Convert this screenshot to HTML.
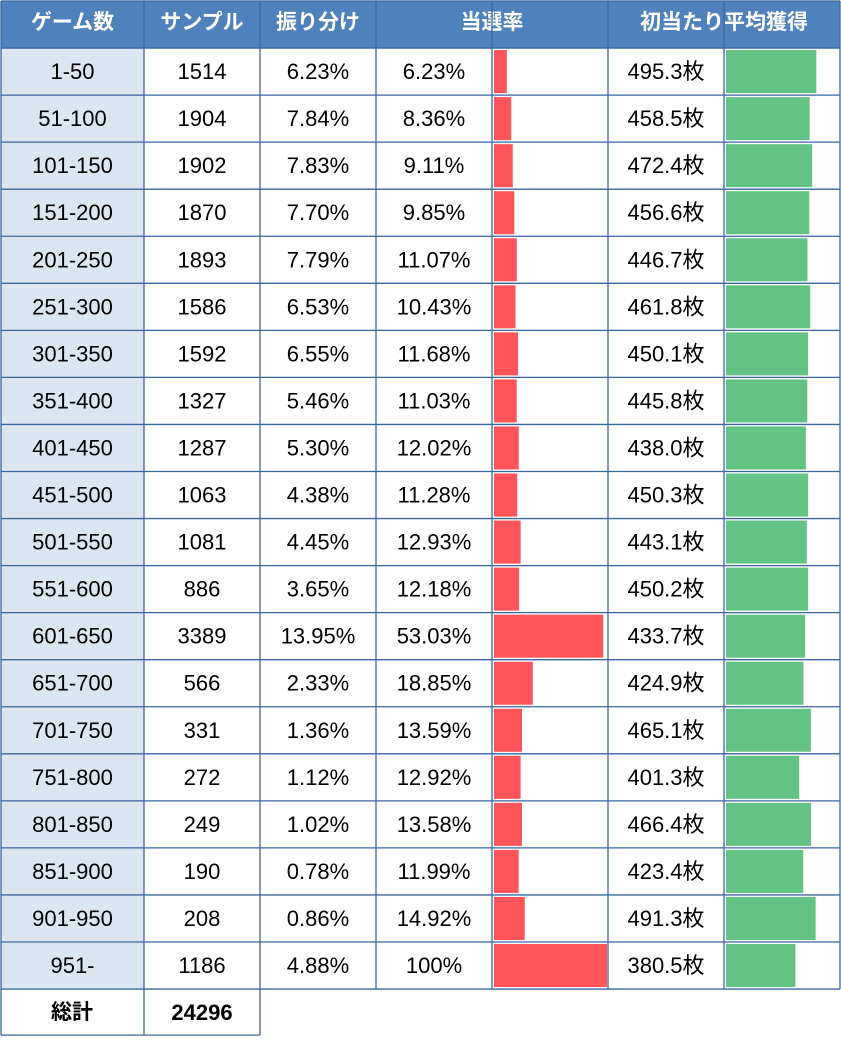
<!DOCTYPE html>
<html><head><meta charset="utf-8"><style>
body{margin:0;background:#fff;width:841px;height:1036px;overflow:hidden;font-family:"Liberation Sans","Noto Sans CJK JP",sans-serif}
svg text{font-family:"Liberation Sans","Noto Sans CJK JP",sans-serif}
</style></head><body>
<svg id="t" width="841" height="1036"></svg>
<script>
const games=["1-50","51-100","101-150","151-200","201-250","251-300","301-350","351-400","401-450","451-500","501-550","551-600","601-650","651-700","701-750","751-800","801-850","851-900","901-950","951-"];
const samples=[1514,1904,1902,1870,1893,1586,1592,1327,1287,1063,1081,886,3389,566,331,272,249,190,208,1186];
const shares=["6.23%","7.84%","7.83%","7.70%","7.79%","6.53%","6.55%","5.46%","5.30%","4.38%","4.45%","3.65%","13.95%","2.33%","1.36%","1.12%","1.02%","0.78%","0.86%","4.88%"];
const hitRates=[6.23,8.36,9.11,9.85,11.07,10.43,11.68,11.03,12.02,11.28,12.93,12.18,53.03,18.85,13.59,12.92,13.58,11.99,14.92,100];
const avgGain=[495.3,458.5,472.4,456.6,446.7,461.8,450.1,445.8,438.0,450.3,443.1,450.2,433.7,424.9,465.1,401.3,466.4,423.4,491.3,380.5];
const headers=["ゲーム数","サンプル","振り分け","当選率","初当たり平均獲得"];
const total="24296";
const NS="http://www.w3.org/2000/svg";
const svg=document.getElementById('t');
const cols=[1,144,260,376,492,608,724,840];
const rowH=47.05, top0=1;
const rowY=i=>top0+i*rowH;
const redW=v=>Math.min(113,v*2.06);
const greenW=v=>v/625*114;
function mk(tag,attrs,parent){const e=document.createElementNS(NS,tag);for(const k in attrs)e.setAttribute(k,attrs[k]);(parent||svg).appendChild(e);return e;}
function txt(x,y,s,opt){const e=mk('text',Object.assign({x:x,y:y,'text-anchor':'middle','dominant-baseline':'central','font-size':22,fill:'#000'},opt||{}));e.textContent=s;return e;}
// header
const hb=mk('rect',{x:1,y:1,width:839,height:rowH,fill:'#4f81bd'});


const hx=[(1+144)/2,(144+260)/2,(260+376)/2,(376+608)/2,(608+840)/2];
headers.forEach((h,i)=>{const e=txt(hx[i],rowY(0)+rowH/2-2,h,{fill:'#fff','font-weight':'bold','font-size':21});

});
// rows
games.forEach((g,i)=>{
 const y=rowY(i+1), cy=y+rowH/2;
 const bg=mk('rect',{x:1,y:y,width:143,height:rowH,fill:'#dce6f1'});
 
 
 const c=[g,String(samples[i]),shares[i],(hitRates[i]===100?'100':hitRates[i].toFixed(2))+'%'];
 c.forEach((s,j)=>{const e=txt((cols[j]+cols[j+1])/2,cy,s);
 
 });
 const rb=mk('rect',{x:494,y:y+2,width:redW(hitRates[i]),height:rowH-4,fill:'#ff555a'});
 
 
 const gt=txt(666,cy,avgGain[i].toFixed(1)+'枚');
 
 
 const gb=mk('rect',{x:726,y:y+2,width:greenW(avgGain[i]),height:rowH-4,fill:'#63c384'});
 
 
});
// total row
const ty=rowY(21)+rowH/2;
const t1=txt(72,ty,'総計',{'font-weight':'bold','font-size':21});


const t2=txt(202,ty,total,{'font-weight':'bold','font-size':22});


// grid lines
const bc='#3a66a0';
for(let i=0;i<=21;i++){mk('line',{x1:1,x2:840,y1:rowY(i),y2:rowY(i),stroke:bc,'stroke-width':1.3});}
mk('line',{x1:1,x2:260,y1:rowY(22)-1,y2:rowY(22)-1,stroke:bc,'stroke-width':1.3});
cols.forEach((x,j)=>{if(j===5)return;const yb=(x<=260)?rowY(22)-1:rowY(21);mk('line',{x1:x,x2:x,y1:rowY(0),y2:yb,stroke:bc,'stroke-width':1.3});});
mk('line',{x1:608,x2:608,y1:rowY(0),y2:rowY(21),stroke:bc,'stroke-width':1.3});
</script>
</body></html>
